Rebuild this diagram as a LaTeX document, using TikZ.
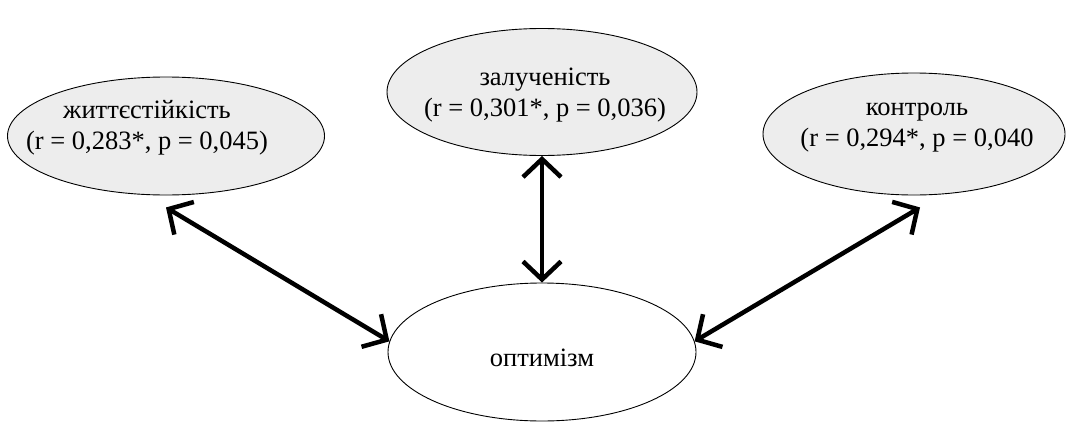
\documentclass[tikz,border=0pt]{standalone}
\usepackage{fontspec}
\setmainfont{Liberation Serif}
\usepackage{tikz}
\usetikzlibrary{shapes.geometric,arrows.meta}

\begin{document}
\begin{tikzpicture}[x=1pt,y=-1pt,
  bubble/.style={draw,ellipse,line width=0.9pt,fill=black!7,inner sep=0pt},
  caption/.style={align=center,inner sep=0pt,font=\fontsize{26.5}{31}\selectfont},
  link/.style={line width=4.5pt,{Straight Barb[length=18pt,width=38pt]}-{Straight Barb[length=18pt,width=38pt]}}]
\useasboundingbox (0,0) rectangle (1067,423);

\node[bubble,minimum width=317pt,minimum height=118pt] (res) at (166,136) {};
\node[bubble,minimum width=310pt,minimum height=127pt] (inv) at (542,92) {};
\node[bubble,minimum width=302pt,minimum height=122pt] (ctl) at (914,134) {};
\node[bubble,fill=white,minimum width=308pt,minimum height=138pt] (opt) at (542,352) {};

\node[caption] (res-t) at (147,128) {життєстійкість\\(r = 0,283*, p = 0,045)};
\node[caption] (inv-t) at (545,95) {залученість\\(r = 0,301*, p = 0,036)};
\node[caption] (ctl-t) at (917,128) {контроль\\(r = 0,294*, p = 0,040};
\node[caption] (opt-t) at (542,358) {оптимізм};

\draw[link] ([yshift=-12pt]res.south) -- (opt.176);
\draw[link] (inv.south) -- (opt.north);
\draw[link] ([xshift=6pt,yshift=-12pt]ctl.south) -- (opt.4);
\end{tikzpicture}
\end{document}
